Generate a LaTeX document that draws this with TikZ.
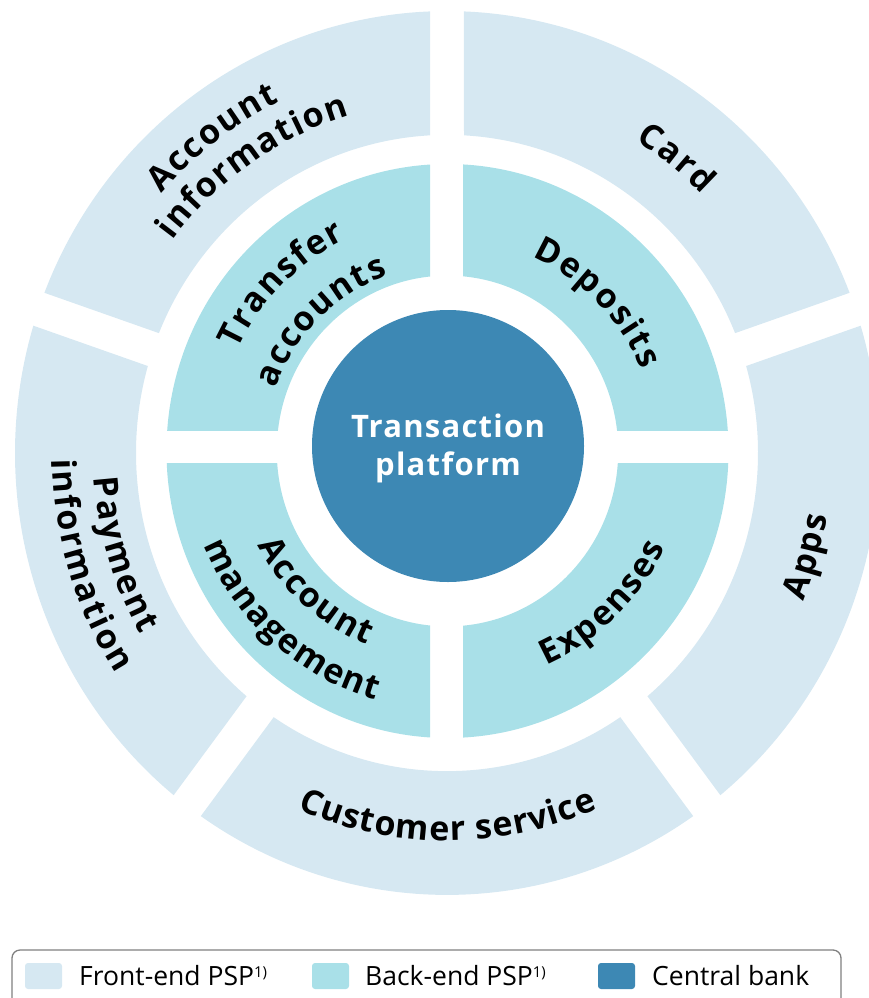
\documentclass[tikz,border=0pt]{standalone}
\usepackage{fontspec}
\setmainfont{Open Sans}
\newfontfamily\lblfam{Open Sans}
\newfontfamily\ctrfam[LetterSpace=4]{Open Sans}
\usetikzlibrary{decorations.text}

\definecolor{frontend}{HTML}{D6E8F2}
\definecolor{backend}{HTML}{A9E0E8}
\definecolor{central}{HTML}{3D88B4}
\definecolor{legendrule}{HTML}{808080}

\newcommand{\lblfont}{\lblfam\bfseries\fontsize{34}{38}\selectfont}
\newcommand{\ctrfont}{\ctrfam\bfseries\fontsize{31}{38}\selectfont}
\newcommand{\legfont}{\fontsize{26.5}{30}\selectfont}
\newcommand{\fnmark}{\raisebox{8pt}{\fontsize{15}{15}\selectfont 1)}}
% extra tracking put in front of every letter of the ring labels
\newcommand{\lsp}{2pt}

% annular sector between two gap strips of half-width #6
% #1 fill, #2 inner radius, #3 outer radius, #4 start angle, #5 end angle
\newcommand{\RingSeg}[6]{%
  \pgfmathsetmacro\segAo{#4+asin(#6/#3)}%
  \pgfmathsetmacro\segBo{#5-asin(#6/#3)}%
  \pgfmathsetmacro\segAi{#4+asin(#6/#2)}%
  \pgfmathsetmacro\segBi{#5-asin(#6/#2)}%
  \fill[#1] (\segAo:#3) arc[start angle=\segAo, end angle=\segBo, radius=#3]
    -- (\segBi:#2) arc[start angle=\segBi, end angle=\segAi, radius=#2] -- cycle;
}

% one quarter of the back-end ring, cut out by a clipping rectangle
\newcommand{\InnerQuarter}[2]{%
  \begin{scope}
    \clip #1 rectangle #2;
    \fill[backend, even odd rule]
      (447.5,-451) ellipse[x radius=281, y radius=287]
      (447.5,-451) ellipse[x radius=170.7, y radius=175.4];
  \end{scope}
}

\tikzset{
  tracking/.code={\renewcommand{\lsp}{#1}},
  arclabel/.style={decorate, decoration={text along path,
      text={|\lblfont\kern\lsp|#1}, text align=center}},
  swatch/.style={rounded corners=3pt, minimum width=37pt, minimum height=26pt, inner sep=0pt},
  legtext/.style={anchor=base west, inner sep=0pt, font=\legfont},
}

\begin{document}
\begin{tikzpicture}[x=1pt,y=1pt]
\useasboundingbox (0,0) rectangle (869,-998);
\clip (0,0) rectangle (869,-998);

% outer ring: front-end services
\begin{scope}[shift={(447,-453)}, yscale=1.023]
  \RingSeg{frontend}{311}{432}{19}{90}{17}
  \RingSeg{frontend}{311}{432}{90}{161}{17}
  \RingSeg{frontend}{311}{432}{161}{233}{17}
  \RingSeg{frontend}{311}{432}{233}{307}{17}
  \RingSeg{frontend}{311}{432}{-53}{19}{17}
  % labels reading clockwise (tops outward)
  \path[arclabel=Account] (172:382) arc[start angle=172, end angle=82, radius=382];
  \path[tracking=1.6pt, arclabel=information] (169.5:344) arc[start angle=169.5, end angle=79.5, radius=344];
  \path[arclabel=Card] (97:359) arc[start angle=97, end angle=7, radius=359];
  % labels reading counter-clockwise (tops inward)
  \path[arclabel=Apps] (-61:385) arc[start angle=-61, end angle=29, radius=385];
  \path[tracking=1pt, arclabel={Customer service}] (215:379) arc[start angle=215, end angle=325, radius=379];
  \path[tracking=2.2pt, arclabel=Payment] (152:354) arc[start angle=152, end angle=242, radius=354];
  \path[tracking=2.2pt, arclabel=information] (152:395) arc[start angle=152, end angle=242, radius=395];
\end{scope}

% inner ring: back-end services
\InnerQuarter{(0,-430)}{(430,0)}
\InnerQuarter{(463,-430)}{(869,0)}
\InnerQuarter{(0,-463)}{(430,-998)}
\InnerQuarter{(463,-463)}{(869,-998)}
\begin{scope}[shift={(447.5,-446.5)}]
  \path[arclabel=Transfer] (186:231) arc[start angle=186, end angle=86, radius=231];
  \path[tracking=1.6pt, arclabel=accounts] (185.5:181) arc[start angle=185.5, end angle=85.5, radius=181];
  \path[arclabel=Deposits] (94:208) arc[start angle=94, end angle=-6, radius=208];
  \path[arclabel=Account] (177.5:214) arc[start angle=177.5, end angle=277.5, radius=214];
  \path[tracking=1.4pt, arclabel=management] (178:263) arc[start angle=178, end angle=278, radius=263];
  \path[arclabel=Expenses] (-95.5:240) arc[start angle=-95.5, end angle=4.5, radius=240];
\end{scope}

% central bank core
\node[circle, fill=central, minimum size=272pt, inner sep=0pt] (core) at (448,-446) {};
\node[align=center, text=white, font=\ctrfont, inner sep=0pt] (coretext)
  at ([yshift=-2pt]core.center) {Transaction\\platform};

% legend
\draw[legendrule, line width=1.3pt, rounded corners=8pt] (12,-950) rectangle (841,-1030);
\node[swatch, fill=frontend] (swA) at (43.5,-976) {};
\node[legtext] (lgA) at (79,-985.5) {Front-end PSP\fnmark};
\node[swatch, fill=backend] (swB) at (330.5,-976) {};
\node[legtext] (lgB) at (365,-985.5) {Back-end PSP\fnmark};
\node[swatch, fill=central] (swC) at (616.5,-976) {};
\node[legtext] (lgC) at (652,-985.5) {Central bank};
\end{tikzpicture}
\end{document}
